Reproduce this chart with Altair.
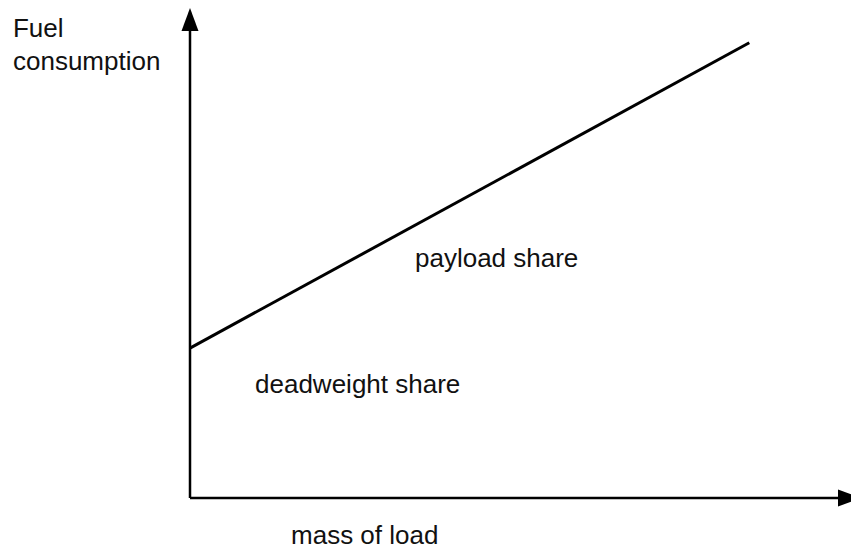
import altair as alt
import pandas as pd

# Fuel consumption line (mass of load -> fuel consumption), arbitrary units 0..10
mass = [0.0, 8.36]
fuel = [3.06, 9.29]

# Axis lines (from origin to arrow base)
xaxis_x = [0.0, 9.75]
xaxis_y = [0.0, 0.0]
yaxis_x = [0.0, 0.0]
yaxis_y = [0.0, 9.6]

# Arrow heads (centres)
arrow_right_x = [9.858]
arrow_right_y = [0.0]
arrow_up_x = [0.0]
arrow_up_y = [9.765]

# Text labels
label_text = ["Fuel", "consumption", "payload share", "deadweight share", "mass of load"]
label_x = [-2.646, -2.646, 3.363, 0.972, 1.51]
label_y = [9.408, 8.735, 4.714, 2.143, -0.93]

xs = alt.Scale(domain=[0, 10], range=[182, 851], nice=False, zero=False)
ys = alt.Scale(domain=[0, 10], range=[490, 0], nice=False, zero=False)

def X(f):
    return alt.X(f, type="quantitative", scale=xs, axis=None)

def Y(f):
    return alt.Y(f, type="quantitative", scale=ys, axis=None)

line_df = pd.DataFrame({"mass": mass, "fuel": fuel})
xaxis_df = pd.DataFrame({"x": xaxis_x, "y": xaxis_y})
yaxis_df = pd.DataFrame({"x": yaxis_x, "y": yaxis_y})
ar_df = pd.DataFrame({"x": arrow_right_x, "y": arrow_right_y})
au_df = pd.DataFrame({"x": arrow_up_x, "y": arrow_up_y})
lab_df = pd.DataFrame({"t": label_text, "x": label_x, "y": label_y})

fuel_line = alt.Chart(line_df).mark_line(color="black", strokeWidth=3).encode(
    x=X("mass"), y=Y("fuel"))
x_axis = alt.Chart(xaxis_df).mark_line(color="black", strokeWidth=2.5).encode(
    x=X("x"), y=Y("y"))
y_axis = alt.Chart(yaxis_df).mark_line(color="black", strokeWidth=2.5).encode(
    x=X("x"), y=Y("y"), order=alt.Order("y:Q"))
arrow_r = alt.Chart(ar_df).mark_point(
    shape="M1,0L-1,-0.739L-1,0.739Z", size=529, filled=True, color="black",
    strokeWidth=0, opacity=1).encode(x=X("x"), y=Y("y"))
arrow_u = alt.Chart(au_df).mark_point(
    shape="M0,-1L0.739,1L-0.739,1Z", size=529, filled=True, color="black",
    strokeWidth=0, opacity=1).encode(x=X("x"), y=Y("y"))
labels = alt.Chart(lab_df).mark_text(
    align="left", baseline="alphabetic", font="Liberation Sans", fontSize=26,
    color="#111111").encode(x=X("x"), y=Y("y"), text="t:N")

chart = alt.layer(y_axis, x_axis, fuel_line, arrow_r, arrow_u, labels).properties(
    width=843, height=542, padding=0,
    autosize=alt.AutoSizeParams(type="none"),
).configure_view(stroke=None)

chart.save("out.html", embed_options={"renderer": "svg", "actions": False})
